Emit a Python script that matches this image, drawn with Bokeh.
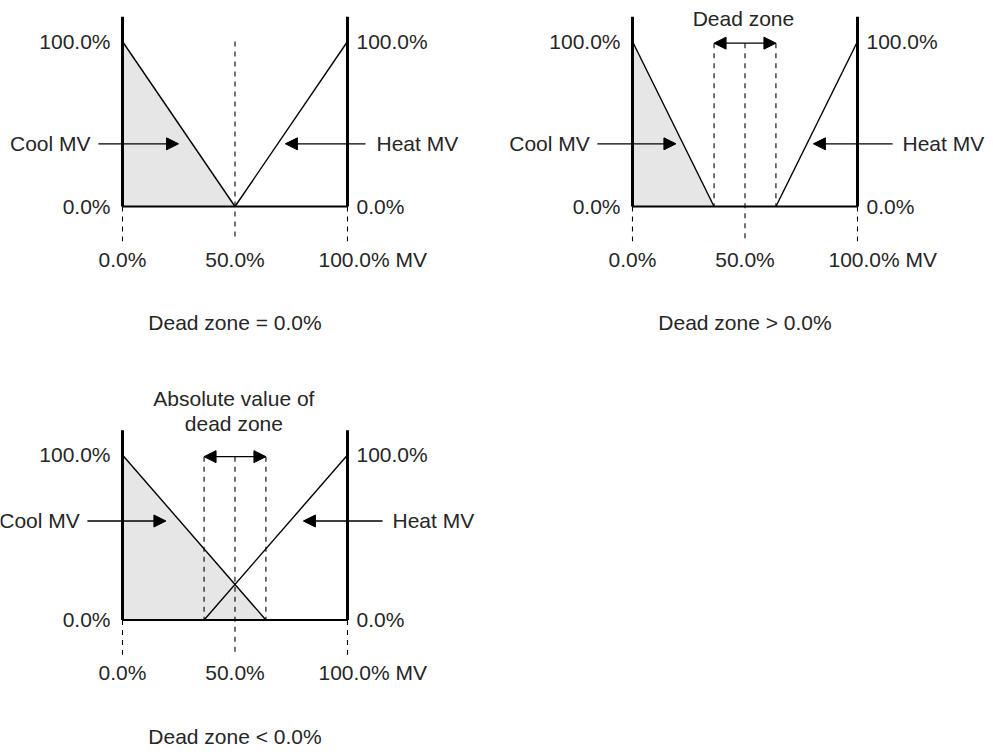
from bokeh.plotting import figure
from bokeh.models import Range1d, Arrow, NormalHead
from bokeh.core.properties import value
from bokeh.embed import file_html
from bokeh.resources import INLINE

# ---- data (percent of MV) ----
captions = ["Dead zone = 0.0%", "Dead zone > 0.0%", "Dead zone < 0.0%"]
cool_zero = [50.0, 36.25, 63.75]     # where Cool MV reaches 0 %
heat_zero = [50.0, 63.75, 36.25]     # where Heat MV leaves 0 %
dz_low = [None, 36.25, 36.25]        # dead zone band
dz_high = [None, 63.75, 63.75]
arrow_level = [38.0, 38.0, 60.0]     # level of Cool/Heat MV pointers
y_tick_labels = ["100.0%", "0.0%"]
y_tick_values = [100.0, 0.0]
x_tick_labels = ["0.0%", "50.0%", "100.0% MV"]
x_tick_values = [0.0, 50.0, 100.0]
top_labels = [[], ["Dead zone"], ["Absolute value of", "dead zone"]]

# ---- layout (panel origins in figure units) ----
OX = [0.0, 226.67, 0.0]
OY = [0.0, 0.0, -250.6]
FONT = value("Liberation Sans")
FS = "21px"
TC = "#262626"

p = figure(width=985, height=752, output_backend="svg", toolbar_location=None,
           x_range=Range1d(-54.22, 383.56), y_range=Range1d(-330.91, 124.85),
           min_border=0)
p.xaxis.visible = False
p.yaxis.visible = False
p.grid.visible = False
p.outline_line_color = None
p.background_fill_color = "white"

for i in range(3):
    ox, oy = OX[i], OY[i]
    X = lambda v: v + ox
    Y = lambda v: v + oy
    # grey cool area
    p.patch([X(0), X(0), X(cool_zero[i])], [Y(0), Y(100), Y(0)],
            fill_color="#e6e6e6", line_color=None)
    # dashed guides
    dx, dy = [], []
    for xv in [0.0, 100.0]:
        dx.append([X(xv), X(xv)]); dy.append([Y(0), Y(-21)])
    mid_top = 100.0 if dz_low[i] is None else 99.0
    dx.append([X(50), X(50)]); dy.append([Y(mid_top), Y(-21)])
    if dz_low[i] is not None:
        for xv in [dz_low[i], dz_high[i]]:
            dx.append([X(xv), X(xv)]); dy.append([Y(99), Y(0)])
    p.multi_line(dx, dy, line_color="black", line_width=1.1, line_dash="5 5")
    # solid lines
    p.multi_line([[X(0), X(0)], [X(100), X(100)]], [[Y(0), Y(115)], [Y(0), Y(115)]],
                 line_color="black", line_width=3)
    p.line([X(0), X(100)], [Y(0), Y(0)], line_color="black", line_width=2)
    p.multi_line([[X(0), X(cool_zero[i])], [X(heat_zero[i]), X(100)]],
                 [[Y(100), Y(0)], [Y(0), Y(100)]], line_color="black", line_width=1.4)
    # pointers
    lv = arrow_level[i]
    if i == 0:
        cs, ce, hs, he = -10.7, 24.9, 108.0, 72.4
        cl, hl = -14.2, 112.9
    else:
        cs, ce, hs, he = -15.6, 19.3, 115.6, 80.4
        cl, hl = -19.0, 120.0
    for (xs, xe) in [(cs, ce), (hs, he)]:
        p.add_layout(Arrow(x_start=X(xs), y_start=Y(lv), x_end=X(xe), y_end=Y(lv),
                           line_color="black", line_width=1.3,
                           end=NormalHead(size=12, fill_color="black", line_color="black")))
    p.text([X(cl)], [Y(lv)], text=["Cool MV"], text_font=FONT, text_font_size=FS,
           text_color=TC, text_align="right", text_baseline="middle")
    p.text([X(hl)], [Y(lv)], text=["Heat MV"], text_font=FONT, text_font_size=FS,
           text_color=TC, text_align="left", text_baseline="middle")
    # dead zone double arrow
    if dz_low[i] is not None:
        p.add_layout(Arrow(x_start=X(dz_low[i]), y_start=Y(99), x_end=X(dz_high[i]), y_end=Y(99),
                           line_color="black", line_width=1.3,
                           start=NormalHead(size=12, fill_color="black", line_color="black"),
                           end=NormalHead(size=12, fill_color="black", line_color="black")))
    # y tick labels
    p.text([X(0)] * 2, [Y(v) for v in y_tick_values], text=y_tick_labels, text_font=FONT,
           text_font_size=FS, text_color=TC, text_align="right", text_baseline="middle",
           x_offset=-12)
    p.text([X(100)] * 2, [Y(v) for v in y_tick_values], text=y_tick_labels, text_font=FONT,
           text_font_size=FS, text_color=TC, text_align="left", text_baseline="middle",
           x_offset=9)
    # x tick labels
    p.text([X(x_tick_values[0]), X(x_tick_values[1])], [Y(-32)] * 2, text=x_tick_labels[:2],
           text_font=FONT, text_font_size=FS, text_color=TC, text_align="center",
           text_baseline="middle")
    p.text([X(x_tick_values[2])], [Y(-32)], text=[x_tick_labels[2]], text_font=FONT,
           text_font_size=FS, text_color=TC, text_align="left", text_baseline="middle",
           x_offset=-29)
    # caption
    p.text([X(50)], [Y(-70.5)], text=[captions[i]], text_font=FONT, text_font_size=FS,
           text_color=TC, text_align="center", text_baseline="middle")
    # top labels
    tl = top_labels[i]
    if len(tl) == 1:
        p.text([X(49.3)], [Y(113.8)], text=tl, text_font=FONT, text_font_size=FS,
               text_color=TC, text_align="center", text_baseline="middle")
    elif len(tl) == 2:
        p.text([X(49.5)] * 2, [Y(134.0), Y(119.0)], text=tl, text_font=FONT, text_font_size=FS,
               text_color=TC, text_align="center", text_baseline="middle")

open("out.html", "w").write(file_html(p, INLINE))
